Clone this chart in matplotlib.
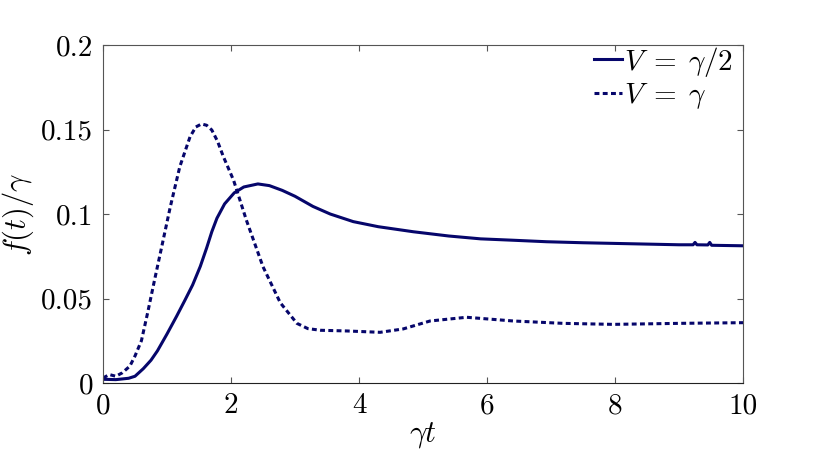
import numpy as np
import matplotlib
matplotlib.use("Agg")
import matplotlib.pyplot as plt

plt.rcParams['mathtext.fontset'] = 'cm'
plt.rcParams['font.family'] = ['cmr10', 'DejaVu Serif']
plt.rcParams['axes.formatter.use_mathtext'] = True

# V = gamma/2 (solid)
t_half = [0.0, 0.2, 0.4, 0.5, 0.63, 0.75, 0.85, 1.0, 1.15, 1.28, 1.4, 1.52, 1.62,
          1.70, 1.78, 1.9, 2.05, 2.2, 2.42, 2.6, 2.8, 3.0, 3.28, 3.55, 3.91, 4.3,
          4.85, 5.4, 5.9, 6.4, 6.93, 7.5, 8.0, 8.5, 9.0, 9.22, 9.25, 9.28, 9.45,
          9.48, 9.51, 10.0]
f_half = [0.0022, 0.0020, 0.0028, 0.0040, 0.0085, 0.0135, 0.0190, 0.0290, 0.0395,
          0.0490, 0.0580, 0.0690, 0.0800, 0.0895, 0.0975, 0.1060, 0.1125, 0.1160,
          0.1178, 0.1168, 0.1140, 0.1105, 0.1045, 0.1000, 0.0955, 0.0925, 0.0895,
          0.0870, 0.0853, 0.0845, 0.0836, 0.0830, 0.0826, 0.0822, 0.0818, 0.0818,
          0.0832, 0.0818, 0.0817, 0.0832, 0.0815, 0.0812]

# V = gamma (dotted)
t_one = [0.0, 0.1, 0.2, 0.3, 0.42, 0.5, 0.6, 0.7, 0.8, 0.94, 1.05, 1.2, 1.36, 1.45,
         1.54, 1.62, 1.70, 1.79, 1.88, 2.04, 2.24, 2.5, 2.77, 3.03, 3.2, 3.4, 3.81,
         4.33, 4.69, 5.11, 5.68, 6.41, 7.19, 7.97, 9.0, 10.0]
f_one = [0.003, 0.005, 0.004, 0.006, 0.010, 0.016, 0.025, 0.042, 0.060, 0.0846,
         0.104, 0.128, 0.1457, 0.1515, 0.1533, 0.1525, 0.1497, 0.1430, 0.134, 0.120,
         0.0964, 0.0688, 0.0475, 0.0353, 0.0322, 0.0312, 0.0308, 0.0300, 0.0320,
         0.0367, 0.0389, 0.0367, 0.0353, 0.0347, 0.0353, 0.0357]

xticks = [0, 2, 4, 6, 8, 10]
yticks = [0, 0.05, 0.1, 0.15, 0.2]
ylabels = ['0', '0.05', '0.1', '0.15', '0.2']

navy = '#06066b'

fig = plt.figure(figsize=(8.3, 4.68), dpi=100)
ax = fig.add_axes([0.1241, 0.1816, 0.7711, 0.7222])

ax.plot(t_half, f_half, color=navy, lw=2.2, label=r'$V\;{=}\;\gamma/2$')
ax.plot(t_one, f_one, color=navy, lw=2.2, dashes=(1.6, 1.1), label=r'$V\;{=}\;\gamma$')

ax.set_xlim(0, 10)
ax.set_ylim(0, 0.2)
ax.set_xticks(xticks)
ax.set_xticklabels([str(v) for v in xticks])
ax.set_yticks(yticks)
ax.set_yticklabels(ylabels)
ax.tick_params(direction='in', top=True, right=True, length=4, width=0.8,
               color='#555555', labelsize=21, pad=7)
for s in ax.spines.values():
    s.set_color('#555555')
    s.set_linewidth(0.8)
ax.spines['bottom'].set_color('#222222')

ax.set_xlabel(r'$\gamma t$', fontsize=22, labelpad=1)
ax.set_ylabel(r'$f(t)/\gamma$', fontsize=22, labelpad=4)

ax.legend(loc='upper right', bbox_to_anchor=(0.988, 1.01), frameon=False,
          fontsize=21, handlelength=0.95, handletextpad=0.05, labelspacing=0.1,
          borderaxespad=0, borderpad=0.1)

fig.savefig('out.png', dpi=100)
